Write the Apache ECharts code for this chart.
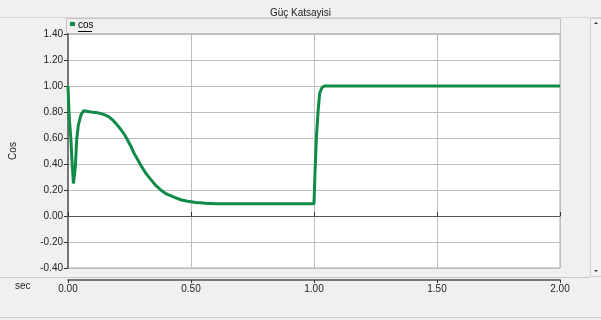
<!DOCTYPE html>
<html><head><meta charset="utf-8">
<script src="https://cdn.jsdelivr.net/npm/echarts@6/dist/echarts.min.js"></script>
<style>html,body{margin:0;padding:0;background:#f0f0f0}#c{width:601px;height:320px}</style>
</head><body><div id="c"></div>
<script>
const titleText = 'Güç Katsayisi';
const seriesName = 'cos';
const yAxisName = 'Cos';
const xAxisName = 'sec';
const timeSec = [0, 0.005, 0.012, 0.016, 0.022, 0.030, 0.035, 0.042, 0.053, 0.064, 0.093, 0.12, 0.147, 0.165, 0.181, 0.2, 0.215, 0.23, 0.242, 0.256, 0.269, 0.283, 0.296, 0.316, 0.337, 0.357, 0.377, 0.40, 0.431, 0.458, 0.486, 0.52, 0.56, 0.6, 0.7, 0.8, 0.9, 1.0, 1.004, 1.010, 1.017, 1.023, 1.033, 1.043, 1.5, 2.0];
const cosValues = [1.0, 0.76, 0.58, 0.43, 0.25, 0.38, 0.58, 0.70, 0.78, 0.81, 0.80, 0.795, 0.78, 0.765, 0.74, 0.70, 0.665, 0.625, 0.585, 0.535, 0.48, 0.435, 0.39, 0.33, 0.28, 0.235, 0.20, 0.17, 0.145, 0.125, 0.113, 0.104, 0.098, 0.095, 0.094, 0.094, 0.094, 0.094, 0.33, 0.61, 0.815, 0.944, 0.99, 1.0, 1.0, 1.0];

const font = 'Liberation Sans';
const lineColor = '#0f8a47';
const chart = echarts.init(document.getElementById('c'));
const data = timeSec.map((t, i) => [t, cosValues[i]]);
chart.setOption({
  backgroundColor: '#f0f0f0',
  animation: false,
  textStyle: {fontFamily: font},
  title: {text: titleText, left: 'center', top: 3, textStyle: {fontSize: 10, fontWeight: 'normal', color: '#222', fontFamily: font}},
  graphic: [
    {type: 'line', shape: {x1: 0, y1: 17.5, x2: 601, y2: 17.5}, style: {stroke: '#d8d8d8', lineWidth: 1}, z: -1},
    {type: 'rect', shape: {x: 66.5, y: 18.5, width: 494, height: 15}, style: {fill: '#f0f0f0', stroke: '#c4c4c4', lineWidth: 1}},
    {type: 'rect', shape: {x: 70, y: 22, width: 5, height: 4}, style: {fill: lineColor}},
    {type: 'text', style: {x: 78, y: 20, text: seriesName, font: '10px ' + font, fill: '#000'}},
    {type: 'line', shape: {x1: 78, y1: 31.5, x2: 92, y2: 31.5}, style: {stroke: '#000', lineWidth: 1}},
    {type: 'rect', shape: {x: 590.5, y: 18.5, width: 11, height: 258}, style: {fill: '#f3f3f3', stroke: '#d0d0d0', lineWidth: 1}},
    {type: 'polygon', shape: {points: [[594, 24], [598, 24], [596, 22]]}, style: {fill: '#333'}},
    {type: 'polygon', shape: {points: [[594, 270], [598, 270], [596, 272]]}, style: {fill: '#333'}},
    {type: 'line', shape: {x1: 0, y1: 277.5, x2: 590, y2: 277.5}, style: {stroke: '#c8c8c8', lineWidth: 1}},
    {type: 'line', shape: {x1: 0, y1: 317.5, x2: 601, y2: 317.5}, style: {stroke: '#c8c8c8', lineWidth: 1}},
    {type: 'text', style: {x: 15, y: 281, text: xAxisName, font: '10px ' + font, fill: '#222'}}
  ],
  grid: {left: 67, right: 41, top: 34, bottom: 52, show: true, backgroundColor: '#fff', borderColor: '#a8a8a8', borderWidth: 1},
  xAxis: [
    {type: 'value', min: 0, max: 2, interval: 0.5,
      axisLine: {show: true, onZero: true, lineStyle: {color: '#555', width: 1}},
      axisTick: {show: true, inside: true, length: 4, lineStyle: {color: '#333'}},
      axisLabel: {show: false},
      splitLine: {show: true, lineStyle: {color: '#bdbdbd', width: 1}}},
    {type: 'value', min: 0, max: 2, interval: 0.5, position: 'bottom', offset: 12,
      axisLine: {show: true, onZero: false, lineStyle: {color: '#777', width: 2}},
      axisTick: {show: true, length: 3, lineStyle: {color: '#333'}},
      axisLabel: {show: true, fontSize: 10, color: '#222', fontFamily: font, margin: 4, formatter: v => v.toFixed(2)},
      splitLine: {show: false}}
  ],
  yAxis: {type: 'value', min: -0.4, max: 1.4, interval: 0.2,
    name: yAxisName, nameLocation: 'middle', nameGap: 50, nameRotate: 90,
    nameTextStyle: {fontSize: 10, color: '#222', fontFamily: font},
    axisLine: {show: true, lineStyle: {color: '#777', width: 2}},
    axisTick: {show: true, length: 4, lineStyle: {color: '#333'}},
    axisLabel: {fontSize: 10, color: '#222', fontFamily: font, margin: 5, formatter: v => v.toFixed(2)},
    splitLine: {show: true, lineStyle: {color: '#bdbdbd', width: 1}}},
  series: [{name: seriesName, type: 'line', xAxisIndex: 0, data: data, showSymbol: false, smooth: false,
    lineStyle: {color: lineColor, width: 3}, itemStyle: {color: lineColor}}]
});
</script></body></html>
